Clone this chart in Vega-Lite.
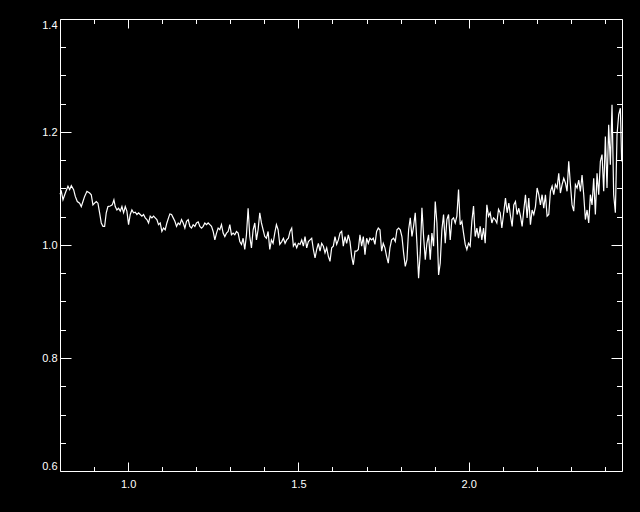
{
  "$schema": "https://vega.github.io/schema/vega-lite/v6.json",
  "width": 562,
  "height": 452,
  "autosize": "none",
  "padding": {"left": 60, "top": 19, "right": 18, "bottom": 41},
  "background": "black",
  "config": {
    "view": {"stroke": "white", "strokeWidth": 1, "fill": "black"},
    "axis": {"grid": false, "domain": false, "title": null, "tickColor": "white", "labelColor": "white", "labelFont": "Liberation Sans", "labelFontSize": 11, "tickWidth": 1}
  },
  "data": {"values": [
    {"x":0.8000,"y":1.090},{"x":0.8039,"y":1.095},{"x":0.8088,"y":1.080},{"x":0.8156,"y":1.092},{"x":0.8234,"y":1.104},{"x":0.8283,"y":1.098},{"x":0.8332,"y":1.105},{"x":0.8400,"y":1.098},{"x":0.8449,"y":1.086},{"x":0.8508,"y":1.077},{"x":0.8576,"y":1.074},{"x":0.8625,"y":1.068},{"x":0.8674,"y":1.077},{"x":0.8723,"y":1.086},{"x":0.8791,"y":1.095},{"x":0.8870,"y":1.092},{"x":0.8918,"y":1.089},{"x":0.8967,"y":1.071},{"x":0.9016,"y":1.074},{"x":0.9065,"y":1.077},{"x":0.9114,"y":1.074},{"x":0.9163,"y":1.057},{"x":0.9212,"y":1.039},{"x":0.9261,"y":1.033},{"x":0.9310,"y":1.033},{"x":0.9358,"y":1.057},{"x":0.9407,"y":1.068},{"x":0.9476,"y":1.069},{"x":0.9534,"y":1.071},{"x":0.9583,"y":1.080},{"x":0.9622,"y":1.068},{"x":0.9671,"y":1.062},{"x":0.9720,"y":1.065},{"x":0.9769,"y":1.060},{"x":0.9818,"y":1.068},{"x":0.9867,"y":1.057},{"x":0.9916,"y":1.068},{"x":0.9964,"y":1.060},{"x":1.0013,"y":1.036},{"x":1.0062,"y":1.054},{"x":1.0111,"y":1.062},{"x":1.0160,"y":1.057},{"x":1.0209,"y":1.058},{"x":1.0258,"y":1.054},{"x":1.0307,"y":1.057},{"x":1.0355,"y":1.054},{"x":1.0404,"y":1.051},{"x":1.0453,"y":1.054},{"x":1.0502,"y":1.048},{"x":1.0551,"y":1.045},{"x":1.0600,"y":1.039},{"x":1.0649,"y":1.051},{"x":1.0698,"y":1.048},{"x":1.0747,"y":1.051},{"x":1.0795,"y":1.048},{"x":1.0844,"y":1.045},{"x":1.0893,"y":1.036},{"x":1.0942,"y":1.039},{"x":1.0991,"y":1.024},{"x":1.1040,"y":1.030},{"x":1.1089,"y":1.027},{"x":1.1138,"y":1.039},{"x":1.1186,"y":1.048},
    {"x":1.1226,"y":1.055},{"x":1.1275,"y":1.054},{"x":1.1324,"y":1.048},{"x":1.1373,"y":1.042},{"x":1.1422,"y":1.033},{"x":1.1470,"y":1.039},{"x":1.1519,"y":1.036},{"x":1.1568,"y":1.045},{"x":1.1617,"y":1.039},{"x":1.1666,"y":1.030},{"x":1.1715,"y":1.042},{"x":1.1764,"y":1.045},{"x":1.1813,"y":1.033},{"x":1.1861,"y":1.030},{"x":1.1910,"y":1.036},{"x":1.1959,"y":1.033},{"x":1.2008,"y":1.039},{"x":1.2057,"y":1.041},{"x":1.2106,"y":1.033},{"x":1.2155,"y":1.030},{"x":1.2204,"y":1.033},{"x":1.2252,"y":1.039},{"x":1.2301,"y":1.036},{"x":1.2350,"y":1.039},{"x":1.2399,"y":1.036},{"x":1.2448,"y":1.033},{"x":1.2497,"y":1.024},{"x":1.2546,"y":1.009},{"x":1.2595,"y":1.021},{"x":1.2643,"y":1.030},{"x":1.2692,"y":1.027},{"x":1.2741,"y":1.036},{"x":1.2790,"y":1.021},{"x":1.2839,"y":1.015},{"x":1.2888,"y":1.021},{"x":1.2937,"y":1.024},{"x":1.2986,"y":1.036},{"x":1.3034,"y":1.018},{"x":1.3083,"y":1.021},{"x":1.3132,"y":1.018},{"x":1.3181,"y":1.024},{"x":1.3230,"y":1.021},{"x":1.3279,"y":1.006},{"x":1.3328,"y":1.001},{"x":1.3377,"y":1.012},{"x":1.3425,"y":0.992},{"x":1.3474,"y":1.018},{"x":1.3523,"y":1.065},{"x":1.3572,"y":1.015},{"x":1.3621,"y":0.995},{"x":1.3670,"y":1.027},{"x":1.3719,"y":1.039},{"x":1.3768,"y":1.009},{"x":1.3816,"y":1.027},{"x":1.3865,"y":1.057},{"x":1.3914,"y":1.039},{"x":1.3963,"y":1.027},{"x":1.4012,"y":1.015},{"x":1.4061,"y":1.012},{"x":1.4110,"y":1.024},{"x":1.4159,"y":0.992},{"x":1.4207,"y":1.009},{"x":1.4256,"y":1.003},{"x":1.4305,"y":1.021},{"x":1.4354,"y":1.036},{"x":1.4403,"y":1.027},{"x":1.4452,"y":1.001},
    {"x":1.4510,"y":1.006},{"x":1.4559,"y":1.012},{"x":1.4608,"y":1.003},{"x":1.4657,"y":1.009},{"x":1.4706,"y":1.012},{"x":1.4754,"y":1.024},{"x":1.4803,"y":1.030},{"x":1.4852,"y":0.998},{"x":1.4901,"y":1.003},{"x":1.4950,"y":0.995},{"x":1.4999,"y":1.003},{"x":1.5048,"y":1.001},{"x":1.5097,"y":1.009},{"x":1.5145,"y":0.998},{"x":1.5194,"y":1.015},{"x":1.5243,"y":0.995},{"x":1.5292,"y":1.006},{"x":1.5341,"y":1.009},{"x":1.5390,"y":1.012},{"x":1.5439,"y":0.992},{"x":1.5488,"y":0.977},{"x":1.5536,"y":0.992},{"x":1.5585,"y":1.003},{"x":1.5634,"y":0.989},{"x":1.5683,"y":1.003},{"x":1.5732,"y":0.998},{"x":1.5781,"y":0.986},{"x":1.5830,"y":0.995},{"x":1.5879,"y":0.980},{"x":1.5927,"y":0.971},{"x":1.5976,"y":0.995},{"x":1.6025,"y":0.998},{"x":1.6074,"y":1.015},{"x":1.6123,"y":1.001},{"x":1.6172,"y":1.009},{"x":1.6221,"y":1.021},{"x":1.6270,"y":1.024},{"x":1.6318,"y":0.998},{"x":1.6367,"y":1.015},{"x":1.6416,"y":1.003},{"x":1.6465,"y":1.018},{"x":1.6514,"y":1.006},{"x":1.6563,"y":0.980},{"x":1.6612,"y":0.965},{"x":1.6661,"y":0.989},{"x":1.6709,"y":0.989},{"x":1.6758,"y":0.992},{"x":1.6807,"y":1.018},{"x":1.6856,"y":0.998},{"x":1.6905,"y":1.015},{"x":1.6954,"y":0.983},{"x":1.7003,"y":1.012},{"x":1.7052,"y":1.003},{"x":1.7100,"y":1.012},{"x":1.7149,"y":1.009},{"x":1.7198,"y":1.012},{"x":1.7247,"y":1.001},{"x":1.7296,"y":1.024},{"x":1.7345,"y":1.030},{"x":1.7394,"y":1.027},{"x":1.7443,"y":0.989},{"x":1.7491,"y":1.003},{"x":1.7540,"y":0.995},{"x":1.7589,"y":0.980},{"x":1.7638,"y":0.968},{"x":1.7687,"y":0.995},{"x":1.7736,"y":1.009},
    {"x":1.7795,"y":1.012},{"x":1.7844,"y":1.006},{"x":1.7893,"y":1.027},{"x":1.7942,"y":1.030},{"x":1.7990,"y":1.027},{"x":1.8039,"y":1.015},{"x":1.8088,"y":0.986},{"x":1.8137,"y":0.962},{"x":1.8186,"y":0.974},{"x":1.8235,"y":1.027},{"x":1.8284,"y":1.048},{"x":1.8333,"y":1.015},{"x":1.8381,"y":1.033},{"x":1.8430,"y":1.057},{"x":1.8479,"y":1.003},{"x":1.8528,"y":0.941},{"x":1.8577,"y":0.986},{"x":1.8626,"y":1.066},{"x":1.8675,"y":1.015},{"x":1.8724,"y":0.974},{"x":1.8772,"y":1.003},{"x":1.8821,"y":1.018},{"x":1.8870,"y":0.974},{"x":1.8919,"y":1.021},{"x":1.8968,"y":0.998},{"x":1.9017,"y":1.077},{"x":1.9066,"y":1.039},{"x":1.9115,"y":0.947},{"x":1.9163,"y":0.968},{"x":1.9212,"y":1.027},{"x":1.9261,"y":1.054},{"x":1.9310,"y":1.003},{"x":1.9359,"y":1.045},{"x":1.9408,"y":1.054},{"x":1.9457,"y":1.009},{"x":1.9506,"y":1.045},{"x":1.9554,"y":1.048},{"x":1.9603,"y":1.039},{"x":1.9652,"y":1.051},{"x":1.9701,"y":1.098},{"x":1.9750,"y":1.036},{"x":1.9799,"y":1.042},{"x":1.9848,"y":1.021},{"x":1.9897,"y":1.001},{"x":1.9945,"y":0.992},{"x":1.9994,"y":1.003},{"x":2.0043,"y":0.998},{"x":2.0092,"y":1.042},{"x":2.0141,"y":1.069},{"x":2.0190,"y":1.015},{"x":2.0239,"y":1.030},{"x":2.0288,"y":1.012},{"x":2.0336,"y":1.033},{"x":2.0385,"y":1.009},{"x":2.0434,"y":1.030},{"x":2.0483,"y":1.003},{"x":2.0532,"y":1.071},{"x":2.0581,"y":1.051},{"x":2.0630,"y":1.057},{"x":2.0679,"y":1.039},{"x":2.0727,"y":1.048},{"x":2.0776,"y":1.045},{"x":2.0825,"y":1.039},{"x":2.0874,"y":1.063},{"x":2.0923,"y":1.057},{"x":2.0972,"y":1.030},{"x":2.1021,"y":1.054},
    {"x":2.1079,"y":1.083},{"x":2.1128,"y":1.057},{"x":2.1177,"y":1.074},{"x":2.1226,"y":1.051},{"x":2.1275,"y":1.033},{"x":2.1323,"y":1.071},{"x":2.1372,"y":1.077},{"x":2.1421,"y":1.054},{"x":2.1470,"y":1.065},{"x":2.1519,"y":1.051},{"x":2.1568,"y":1.033},{"x":2.1617,"y":1.062},{"x":2.1666,"y":1.089},{"x":2.1714,"y":1.048},{"x":2.1763,"y":1.083},{"x":2.1812,"y":1.036},{"x":2.1861,"y":1.062},{"x":2.1910,"y":1.054},{"x":2.1959,"y":1.068},{"x":2.2008,"y":1.101},{"x":2.2057,"y":1.089},{"x":2.2105,"y":1.071},{"x":2.2154,"y":1.089},{"x":2.2203,"y":1.065},{"x":2.2252,"y":1.089},{"x":2.2301,"y":1.051},{"x":2.2350,"y":1.054},{"x":2.2399,"y":1.095},{"x":2.2448,"y":1.104},{"x":2.2496,"y":1.089},{"x":2.2545,"y":1.107},{"x":2.2594,"y":1.101},{"x":2.2643,"y":1.127},{"x":2.2692,"y":1.092},{"x":2.2741,"y":1.107},{"x":2.2790,"y":1.118},{"x":2.2839,"y":1.110},{"x":2.2887,"y":1.095},{"x":2.2936,"y":1.148},{"x":2.2985,"y":1.107},{"x":2.3034,"y":1.071},{"x":2.3083,"y":1.060},{"x":2.3132,"y":1.107},{"x":2.3181,"y":1.101},{"x":2.3230,"y":1.115},{"x":2.3278,"y":1.095},{"x":2.3327,"y":1.124},{"x":2.3376,"y":1.089},{"x":2.3425,"y":1.045},{"x":2.3474,"y":1.062},{"x":2.3523,"y":1.039},{"x":2.3572,"y":1.089},{"x":2.3621,"y":1.071},{"x":2.3669,"y":1.118},{"x":2.3718,"y":1.054},{"x":2.3767,"y":1.127},{"x":2.3816,"y":1.089},{"x":2.3865,"y":1.148},{"x":2.3914,"y":1.160},{"x":2.3963,"y":1.095},{"x":2.4012,"y":1.192},{"x":2.4060,"y":1.101},{"x":2.4109,"y":1.213},{"x":2.4158,"y":1.142},{"x":2.4207,"y":1.248},{"x":2.4256,"y":1.089},{"x":2.4305,"y":1.057},{"x":2.4354,"y":1.195},{"x":2.4403,"y":1.231},{"x":2.4452,"y":1.242},{"x":2.4490,"y":1.148}
  ]},
  "layer": [
    {
      "mark": {"type": "line", "color": "white", "strokeWidth": 1.2, "interpolate": "linear"},
      "encoding": {
        "x": {"field": "x", "type": "quantitative", "scale": {"domain": [0.8, 2.45], "nice": false, "zero": false},
          "axis": {"orient": "bottom", "values": [0.9,1.0,1.1,1.2,1.3,1.4,1.5,1.6,1.7,1.8,1.9,2.0,2.1,2.2,2.3,2.4],
            "tickSize": {"condition": {"test": "abs(datum.value*2 - round(datum.value*2)) < 0.001", "value": -9}, "value": -4.5},
            "labelExpr": "abs(datum.value*2 - round(datum.value*2)) < 0.001 ? format(datum.value, '.1f') : ''",
            "labelPadding": 16, "labelFlush": false, "labelColor": "white", "labelFontSize": 11}},
        "y": {"field": "y", "type": "quantitative", "scale": {"domain": [0.6, 1.4], "nice": false, "zero": false},
          "axis": {"orient": "left", "values": [0.6,0.65,0.7,0.75,0.8,0.85,0.9,0.95,1.0,1.05,1.1,1.15,1.2,1.25,1.3,1.35,1.4],
            "tickSize": {"condition": {"test": "abs(datum.value*5 - round(datum.value*5)) < 0.001", "value": -11}, "value": -5.5},
            "labelExpr": "abs(datum.value*5 - round(datum.value*5)) < 0.001 ? format(datum.value, '.1f') : ''",
            "labelPadding": 14, "labelFlush": true, "labelColor": "white", "labelFontSize": 11}}
      }
    },
    {
      "mark": {"type": "line", "strokeOpacity": 0},
      "encoding": {
        "x": {"field": "x", "type": "quantitative", "scale": {"domain": [0.8, 2.45], "nice": false, "zero": false},
          "axis": {"orient": "top", "values": [0.9,1.0,1.1,1.2,1.3,1.4,1.5,1.6,1.7,1.8,1.9,2.0,2.1,2.2,2.3,2.4],
            "tickSize": {"condition": {"test": "abs(datum.value*2 - round(datum.value*2)) < 0.001", "value": -9}, "value": -4.5},
            "labels": false}},
        "y": {"field": "y", "type": "quantitative", "scale": {"domain": [0.6, 1.4], "nice": false, "zero": false},
          "axis": {"orient": "right", "values": [0.6,0.65,0.7,0.75,0.8,0.85,0.9,0.95,1.0,1.05,1.1,1.15,1.2,1.25,1.3,1.35,1.4],
            "tickSize": {"condition": {"test": "abs(datum.value*5 - round(datum.value*5)) < 0.001", "value": -11}, "value": -5.5},
            "labels": false}}
      }
    }
  ],
  "resolve": {"axis": {"x": "independent", "y": "independent"}}
}
